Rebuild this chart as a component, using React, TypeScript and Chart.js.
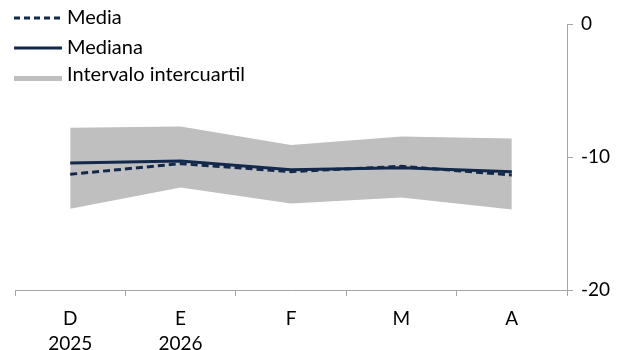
import React, { useEffect, useRef } from "react";
import { Chart, registerables } from "chart.js";

Chart.register(...registerables);

const categories: (string | string[])[] = [["D", "2025"], ["E", "2026"], "F", "M", "A"];
const media = [-11.3, -10.5, -11.1, -10.7, -11.35];
const mediana = [-10.45, -10.3, -10.95, -10.8, -11.1];
const q75 = [-7.8, -7.7, -9.1, -8.45, -8.6];
const q25 = [-13.9, -12.3, -13.5, -13.05, -13.95];
const yTicks = [0, -10, -20];

const NAVY = "#13294b";
const GREY = "#bfbfbf";
const FONT = "Lato, 'Open Sans', sans-serif";

const legendPlugin = {
  id: "customLegend",
  afterDraw(chart: any) {
    const ctx = chart.ctx;
    ctx.save();
    ctx.font = `20px ${FONT}`;
    ctx.fillStyle = "#000";
    ctx.textBaseline = "middle";
    // Media
    ctx.strokeStyle = NAVY;
    ctx.lineWidth = 3;
    ctx.setLineDash([6, 4]);
    ctx.beginPath();
    ctx.moveTo(14, 18);
    ctx.lineTo(62, 18);
    ctx.stroke();
    ctx.setLineDash([]);
    ctx.fillText("Media", 67, 18);
    // Mediana
    ctx.beginPath();
    ctx.moveTo(14, 48);
    ctx.lineTo(62, 48);
    ctx.stroke();
    ctx.fillText("Mediana", 67, 48);
    // IQR
    ctx.fillStyle = GREY;
    ctx.fillRect(14, 76, 48, 5);
    ctx.fillStyle = "#000";
    ctx.fillText("Intervalo intercuartil", 67, 75);
    ctx.restore();
  },
};

export default function App() {
  const ref = useRef<HTMLCanvasElement>(null);
  useEffect(() => {
    document.body.style.margin = "0";
    const chart = new Chart(ref.current!, {
      type: "line",
      data: {
        labels: categories,
        datasets: [
          {
            label: "Media",
            data: media,
            borderColor: NAVY,
            borderWidth: 3,
            borderDash: [7, 4],
            pointRadius: 0,
            fill: false,
            order: 0,
          },
          {
            label: "Mediana",
            data: mediana,
            borderColor: NAVY,
            borderWidth: 3,
            pointRadius: 0,
            fill: false,
            order: 1,
          },
          {
            label: "q75",
            data: q75,
            borderWidth: 0,
            borderColor: "rgba(0,0,0,0)",
            pointRadius: 0,
            backgroundColor: GREY,
            fill: "+1",
            order: 2,
          },
          {
            label: "q25",
            data: q25,
            borderWidth: 0,
            borderColor: "rgba(0,0,0,0)",
            pointRadius: 0,
            fill: false,
            order: 3,
          },
        ],
      },
      plugins: [legendPlugin],
      options: {
        animation: false,
        responsive: false,
        maintainAspectRatio: false,
        layout: { padding: { left: 15, top: 24, right: 0, bottom: 0 } },
        plugins: { legend: { display: false }, tooltip: { enabled: false } },
        scales: {
          x: {
            offset: true,
            grid: {
              offset: true,
              drawOnChartArea: false,
              drawTicks: true,
              tickLength: 6,
              color: "#a6a6a6",
            },
            border: { color: "#a6a6a6", width: 1 },
            ticks: {
              color: "#000",
              font: { family: FONT, size: 19, lineHeight: 1.32 },
              maxRotation: 0,
              padding: 10,
            },
            afterFit: (s: any) => {
              s.height = 60;
            },
          },
          y: {
            position: "right",
            min: -20,
            max: 0,
            afterBuildTicks: (s: any) => {
              s.ticks = yTicks.map((v) => ({ value: v }));
            },
            grid: {
              drawOnChartArea: false,
              drawTicks: true,
              tickLength: 6,
              color: "#a6a6a6",
            },
            border: { color: "#a6a6a6", width: 1 },
            ticks: {
              color: "#000",
              font: { family: FONT, size: 19 },
              padding: 8,
            },
            afterFit: (s: any) => {
              s.width = 63;
            },
          },
        },
      },
    });
    return () => chart.destroy();
  }, []);
  return (
    <div style={{ width: 630, height: 350 }}>
      <canvas ref={ref} width={630} height={350} style={{ display: "block" }} />
    </div>
  );
}
